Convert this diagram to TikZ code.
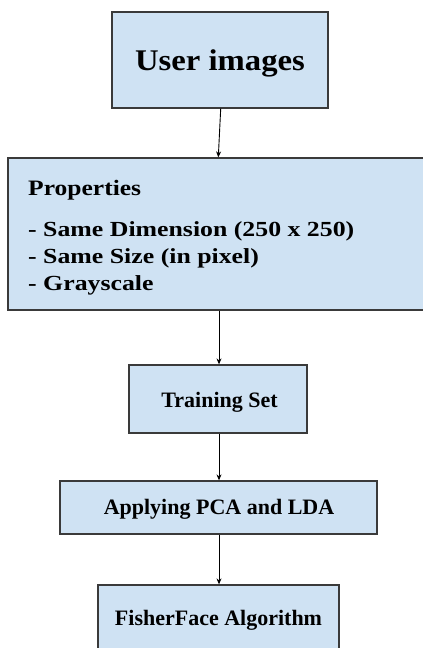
\documentclass[tikz,border=0pt]{standalone}
\usepackage{fontspec}
\setmainfont{Liberation Serif}
\usetikzlibrary{arrows.meta}
\definecolor{boxfill}{HTML}{CFE2F3}
\definecolor{boxline}{HTML}{3A3A3A}
\tikzset{
  box/.style={draw=boxline, fill=boxfill, line width=1.3pt, inner sep=0pt, rectangle},
  lbl/.style={inner sep=0pt, anchor=base, font=\fontsize{22}{26}\selectfont\bfseries},
  arr/.style={-{Stealth[length=6pt,width=5pt]}, line width=0.9pt, black},
}
\begin{document}
\begin{tikzpicture}[x=1pt,y=-1pt]
\useasboundingbox (0,0) rectangle (423,648);
% boxes
\node[box, minimum width=216pt, minimum height=96pt] (u) at (220,60) {};
\node[box, minimum width=418pt, minimum height=152pt] (p) at (217,234) {};
\node[box, minimum width=178pt, minimum height=68pt] (t) at (218,399) {};
\node[box, minimum width=317pt, minimum height=53pt] (a) at (218.5,507.5) {};
\node[box, minimum width=241pt, minimum height=75pt] (f) at (218.5,622.5) {};
% texts
\node[lbl, font=\fontsize{30}{34}\selectfont\bfseries] (ut) at (220,70) {\scalebox{1.09}[1]{User images}};
\node[lbl, anchor=base west] (pt) at (28,195) {\scalebox{1.16}[1]{Properties}};
\node[lbl, anchor=base west, font=\fontsize{21.5}{26}\selectfont\bfseries] (p1) at (28,236.7) {\scalebox{1.2}[1]{- Same Dimension (250 x 250)}};
\node[lbl, anchor=base west, font=\fontsize{21.5}{26}\selectfont\bfseries] (p2) at (28,263.5) {\scalebox{1.2}[1]{- Same Size (in pixel)}};
\node[lbl, anchor=base west, font=\fontsize{21.5}{26}\selectfont\bfseries] (p3) at (28,290.5) {\scalebox{1.2}[1]{- Grayscale}};
\node[lbl] (tt) at (219.5,407.3) {Training Set};
\node[lbl] (at) at (219,514.3) {Applying PCA and LDA};
\node[lbl] (ft) at (218.5,625.7) {FisherFace Algorithm};
% connectors
\draw[arr] ([xshift=0.7pt]u.south) -- ([xshift=1.3pt]p.north);
\draw[arr] ([xshift=1pt]t.north |- p.south) -- ([xshift=1pt]t.north);
\draw[arr] ([xshift=1pt]t.south) -- ([xshift=0.5pt]a.north);
\draw[arr] ([xshift=0.5pt]a.south) -- ([xshift=0.5pt]f.north);
\end{tikzpicture}
\end{document}
